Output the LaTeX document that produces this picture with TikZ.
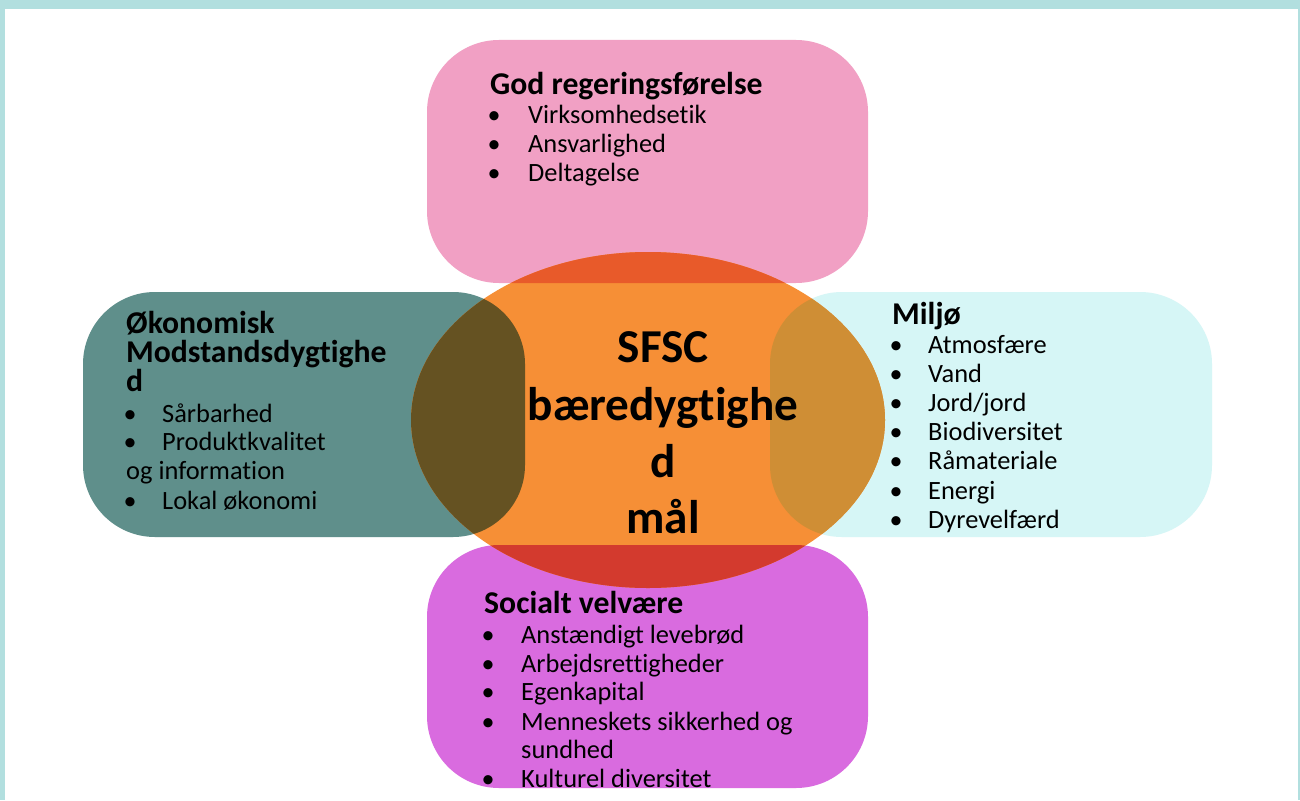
\documentclass[tikz,border=0pt]{standalone}
\usepackage{fontspec}
\setmainfont{Carlito}[Ligatures={NoCommon}]
\definecolor{frame}{RGB}{178,223,223}
\definecolor{govc}{RGB}{241,160,196}
\definecolor{ecoc}{RGB}{95,143,139}
\definecolor{envc}{RGB}{214,246,246}
\definecolor{socc}{RGB}{217,107,223}
\definecolor{corec}{RGB}{246,143,54}
\definecolor{govx}{RGB}{232,90,42}
\definecolor{ecox}{RGB}{101,82,34}
\definecolor{envx}{RGB}{207,142,53}
\definecolor{socx}{RGB}{211,58,46}
\begin{document}
\begin{tikzpicture}[x=1pt,y=-1pt,
  box/.style={rounded corners=72pt},
  body/.style={font=\fontsize{26.4}{26}\selectfont, anchor=base west, inner sep=0pt},
  head/.style={font=\fontsize{31.7}{31}\selectfont\bfseries, anchor=base west, inner sep=0pt},
  bul/.style={font=\fontsize{26}{26}\selectfont, anchor=base, inner sep=0pt},
  core/.style={font=\fontsize{47.2}{46}\selectfont\bfseries, anchor=base, inner sep=0pt}]
\useasboundingbox (0,0) rectangle (1300,800);
\fill[white] (0,0) rectangle (1300,800);
\fill[frame] (0,0) rectangle (1300,9);
\fill[frame] (0,0) rectangle (5,800);
\fill[frame] (1298,0) rectangle (1300,800);
% boxes
\fill[govc,box] (427,40) rectangle (868,283);
\fill[ecoc,box] (83,292) rectangle (525,537);
\fill[envc,box] (770,292) rectangle (1212,537);
\fill[socc,box] (427,545) rectangle (868,788);
% core ellipse
\fill[corec] (648,420) ellipse [x radius=237, y radius=168];
\begin{scope}
  \clip (648,420) ellipse [x radius=237, y radius=168];
  \fill[govx,box] (427,40) rectangle (868,283);
  \fill[ecox,box] (83,292) rectangle (525,537);
  \fill[envx,box] (770,292) rectangle (1212,537);
  \fill[socx,box] (427,545) rectangle (868,788);
\end{scope}
% top box text
\node[head] (govt) at (490,94) {God regeringsførelse};
\node[bul] (govb1) at (494,123) {•};
\node[body] (gov1) at (528,123) {Virksomhedsetik};
\node[bul] (govb2) at (494,152) {•};
\node[body] (gov2) at (528,152) {Ansvarlighed};
\node[bul] (govb3) at (494,181.5) {•};
\node[body] (gov3) at (528,181.5) {Deltagelse};
% left box text
\node[head] (ecot1) at (126,333) {Økonomisk};
\node[head] (ecot2) at (126,362.5) {Modstandsdygtighe};
\node[head] (ecot3) at (126,391.5) {d};
\node[bul] (ecob1) at (130,422) {•};
\node[body] (eco1) at (162,422) {Sårbarhed};
\node[bul] (ecob2) at (130,450) {•};
\node[body] (eco2) at (162,450) {Produktkvalitet};
\node[body] (eco3) at (126,479) {og information};
\node[bul] (ecob4) at (130,509) {•};
\node[body] (eco4) at (162,509) {Lokal økonomi};
% right box text
\node[head] (envt) at (892,324) {Miljø};
\node[bul] (envb1) at (896,353) {•};
\node[body] (env1) at (928,353) {Atmosfære};
\node[bul] (envb2) at (896,382.5) {•};
\node[body] (env2) at (928,382.5) {Vand};
\node[bul] (envb3) at (896,411) {•};
\node[body] (env3) at (928,411) {Jord/jord};
\node[bul] (envb4) at (896,440) {•};
\node[body] (env4) at (928,440) {Biodiversitet};
\node[bul] (envb5) at (896,469.5) {•};
\node[body] (env5) at (928,469.5) {Råmateriale};
\node[bul] (envb6) at (896,499) {•};
\node[body] (env6) at (928,499) {Energi};
\node[bul] (envb7) at (896,528) {•};
\node[body] (env7) at (928,528) {Dyrevelfærd};
% bottom box text
\begin{scope}
  \clip[box] (427,545) rectangle (868,788);
  \node[head] (soct) at (484,613) {Socialt velvære};
  \node[bul] (socb1) at (488,643) {•};
  \node[body] (soc1) at (521,643) {Anstændigt levebrød};
  \node[bul] (socb2) at (488,672) {•};
  \node[body] (soc2) at (521,672) {Arbejdsrettigheder};
  \node[bul] (socb3) at (488,700.5) {•};
  \node[body] (soc3) at (521,700.5) {Egenkapital};
  \node[bul] (socb4) at (488,730) {•};
  \node[body] (soc4) at (521,730) {Menneskets sikkerhed og};
  \node[body] (soc5) at (521,758.5) {sundhed};
  \node[bul] (socb6) at (488,787) {•};
  \node[body] (soc6) at (521,787) {Kulturel diversitet};
\end{scope}
% core text
\node[core] (core1) at (663,362) {SFSC};
\node[core] (core2) at (663,420) {bæredygtighe};
\node[core] (core3) at (663,477) {d};
\node[core] (core4) at (663,533) {mål};
\end{tikzpicture}
\end{document}
